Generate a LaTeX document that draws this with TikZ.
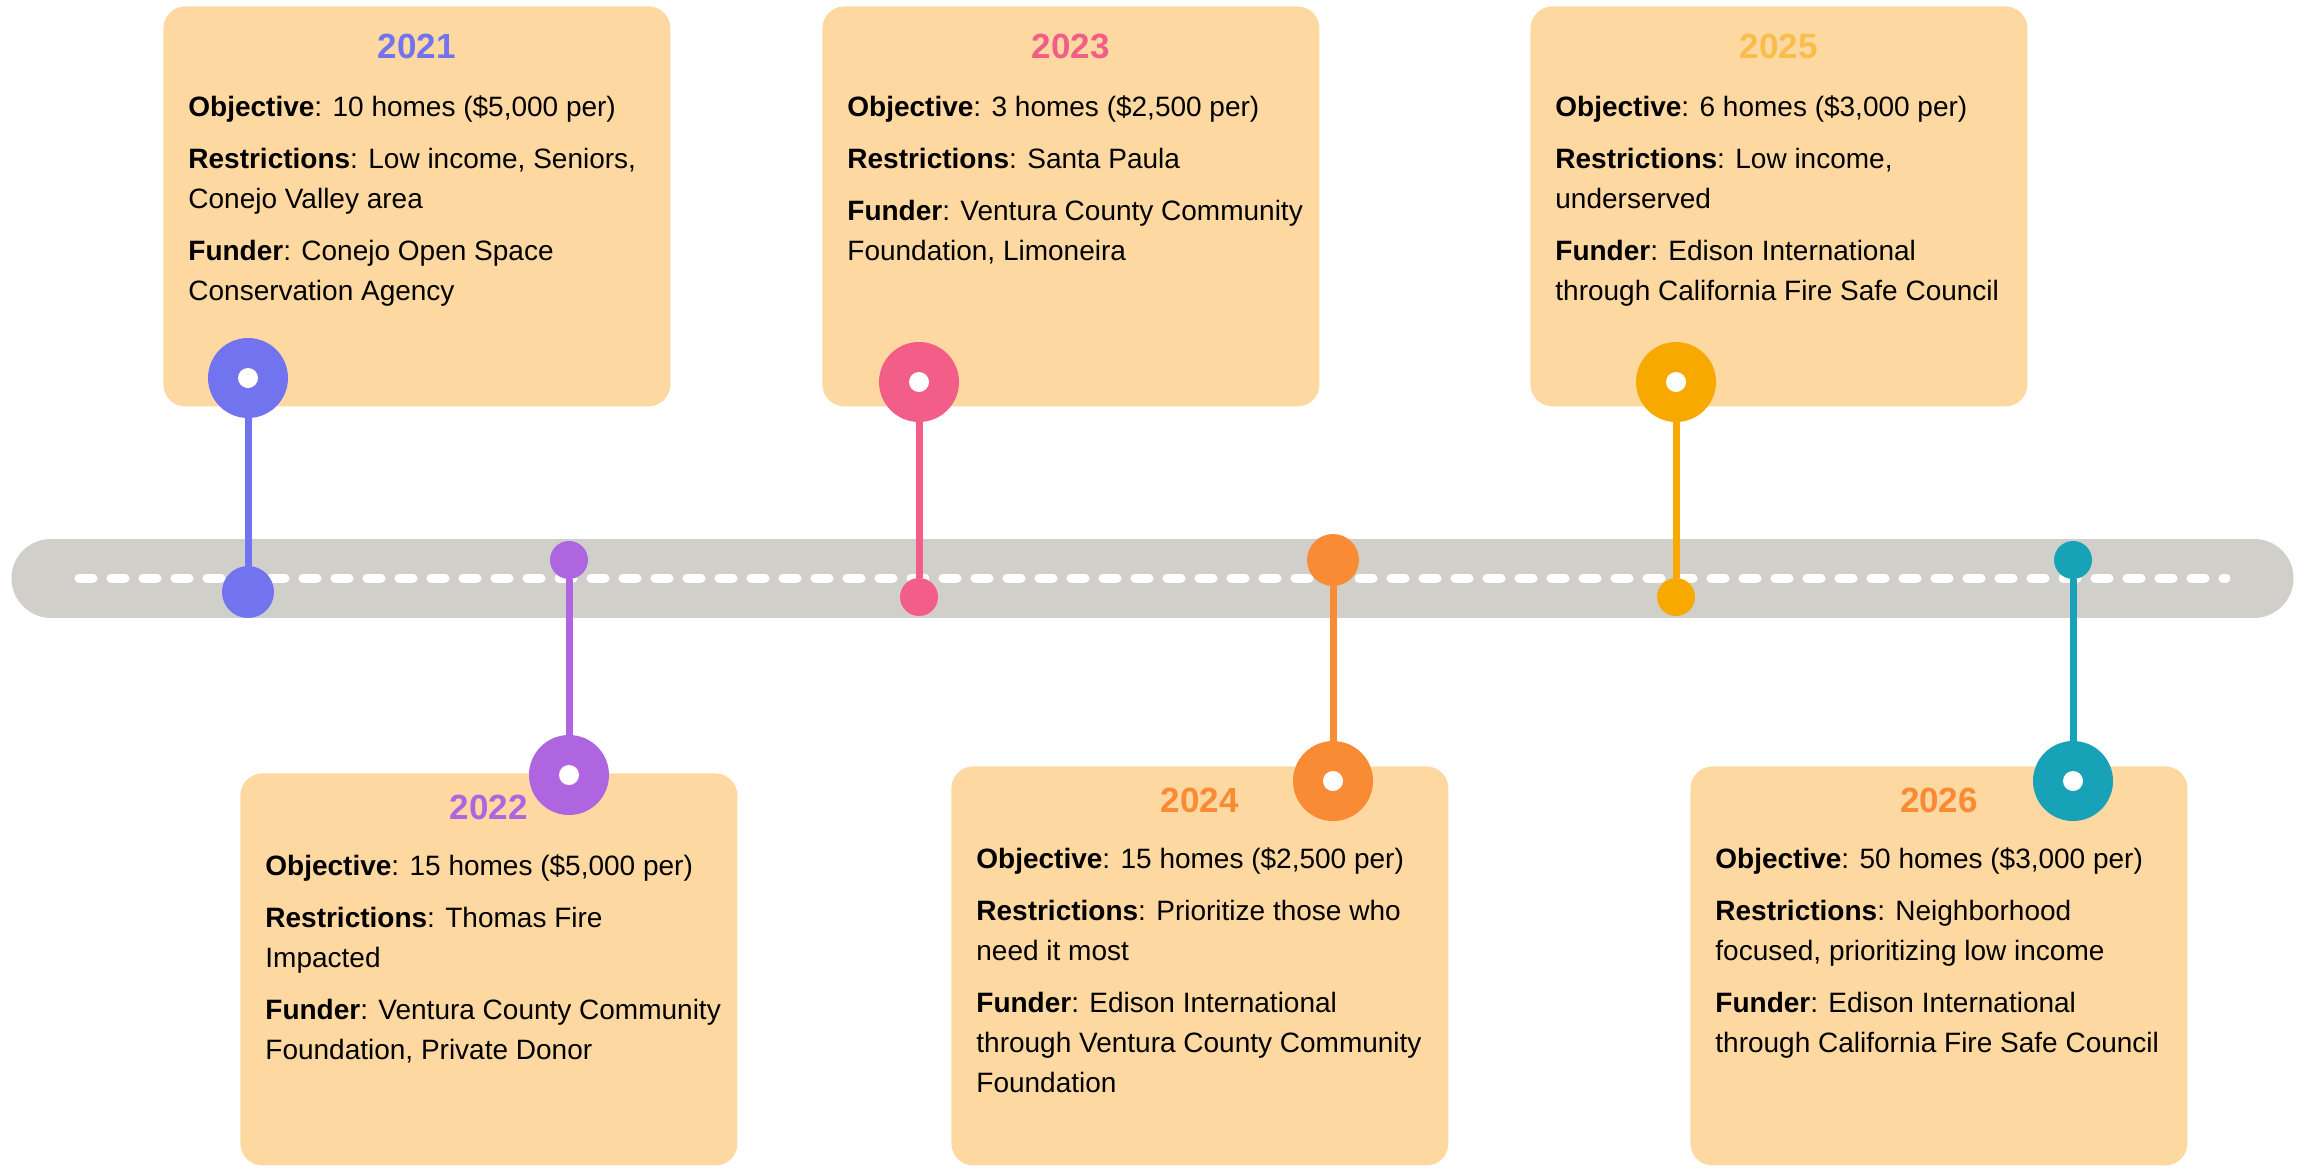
\documentclass[tikz,border=0pt]{standalone}
\usepackage{fontspec}
\setmainfont{Liberation Sans}
\usepackage{tikz}
\usetikzlibrary{positioning}
\definecolor{c21}{HTML}{7273EE}
\definecolor{c22}{HTML}{B065E0}
\definecolor{c23}{HTML}{F25E87}
\definecolor{c24}{HTML}{F98B35}
\definecolor{c25}{HTML}{F8A900}
\definecolor{y25}{HTML}{F9BE4A}
\definecolor{c26}{HTML}{17A2B8}
\definecolor{cardfill}{HTML}{FDD8A0}
\definecolor{road}{HTML}{D1CFCA}
\newcommand{\obj}{\textbf{Objective}: }
\newcommand{\res}{\textbf{Restrictions}: }
\newcommand{\fun}{\textbf{Funder}: }
\newcommand{\gap}{\\[6pt]}

\begin{document}
\begin{tikzpicture}[x=0.5pt,y=-0.5pt,
	card/.style={fill=cardfill,rounded corners=11pt,minimum width=248.5pt,%
		minimum height=200pt,anchor=north west,inner sep=0pt},
	year/.style={font=\fontsize{17.5}{21}\selectfont\bfseries,text=#1,inner sep=0pt},
	info/.style={font=\fontsize{14}{20}\selectfont,align=left,inner sep=0pt},
	pin/.style={circle,fill=#1,minimum size=40pt,inner sep=0pt},
	hole/.style={circle,fill=white,minimum size=10pt,inner sep=0pt},
	dot/.style={circle,fill=#1,minimum size=19pt,inner sep=0pt},
	stem/.style={draw=#1,line width=3.5pt}
	]
	\useasboundingbox (0,0) rectangle (2305,1167);

	% road
	\draw[road,line width=39.5pt,line cap=round] (51,578) -- (2254,578);
	\draw[white,line width=4.5pt,line cap=round,dash pattern=on 7pt off 9pt] (79,578) -- (2226,578);

	% cards above
	\node[card,minimum width=253.5pt] (k21) at (163,6) {};
	\node[card] (k23) at (822,6) {};
	\node[card] (k25) at (1530,6) {};
	% cards below
	\node[card,minimum height=196pt] (k22) at (240,773) {};
	\node[card,minimum height=199.5pt] (k24) at (951,766) {};
	\node[card,minimum height=199.5pt] (k26) at (1690,766) {};

	\node[year=c21,below=14pt of k21.north] (y21) {2021};
	\node[year=c23,below=14pt of k23.north] (y23) {2023};
	\node[year=y25,below=14pt of k25.north] (y25) {2025};
	\node[year=c22,below=11pt of k22.north] (y22) {2022};
	\node[year=c24,below=11pt of k24.north] (y24) {2024};
	\node[year=c24,below=11pt of k26.north] (y26) {2026};

	\node[info,below right=44.5pt and 12.5pt of k21.north west] (t21)
		{\obj 10 homes (\$5,000 per)\gap
		 \res Low income, Seniors,\\ Conejo Valley area\gap
		 \fun Conejo Open Space\\ Conservation Agency};
	\node[info,below right=44.5pt and 12.5pt of k23.north west] (t23)
		{\obj 3 homes (\$2,500 per)\gap
		 \res Santa Paula\gap
		 \fun Ventura County Community\\ Foundation, Limoneira};
	\node[info,below right=44.5pt and 12.5pt of k25.north west] (t25)
		{\obj 6 homes (\$3,000 per)\gap
		 \res Low income,\\ underserved\gap
		 \fun Edison International\\ through California Fire Safe Council};
	\node[info,below right=40.5pt and 12.5pt of k22.north west] (t22)
		{\obj 15 homes (\$5,000 per)\gap
		 \res Thomas Fire\\ Impacted\gap
		 \fun Ventura County Community\\ Foundation, Private Donor};
	\node[info,below right=40.5pt and 12.5pt of k24.north west] (t24)
		{\obj 15 homes (\$2,500 per)\gap
		 \res Prioritize those who\\ need it most\gap
		 \fun Edison International\\ through Ventura County Community\\ Foundation};
	\node[info,below right=40.5pt and 12.5pt of k26.north west] (t26)
		{\obj 50 homes (\$3,000 per)\gap
		 \res Neighborhood\\ focused, prioritizing low income\gap
		 \fun Edison International\\ through California Fire Safe Council};

	% pins and dots on the road
	\node[pin=c21] (p21) at (248,378) {};
	\node[dot=c21,minimum size=26pt] (d21) at (248,592) {};
	\node[pin=c22] (p22) at (569,775) {};
	\node[dot=c22] (d22) at (569,560) {};
	\node[pin=c23] (p23) at (919,382) {};
	\node[dot=c23] (d23) at (919,597) {};
	\node[pin=c24] (p24) at (1333,781) {};
	\node[dot=c24,minimum size=26pt] (d24) at (1333,560) {};
	\node[pin=c25] (p25) at (1676,382) {};
	\node[dot=c25] (d25) at (1676,597) {};
	\node[pin=c26] (p26) at (2073,781) {};
	\node[dot=c26] (d26) at (2073,560) {};

	\draw[stem=c21] (p21) -- (d21);
	\draw[stem=c22] (d22) -- (p22);
	\draw[stem=c23] (p23) -- (d23);
	\draw[stem=c24] (d24) -- (p24);
	\draw[stem=c25] (p25) -- (d25);
	\draw[stem=c26] (d26) -- (p26);

	\node[hole] (h21) at (p21) {};
	\node[hole] (h22) at (p22) {};
	\node[hole] (h23) at (p23) {};
	\node[hole] (h24) at (p24) {};
	\node[hole] (h25) at (p25) {};
	\node[hole] (h26) at (p26) {};
\end{tikzpicture}
\end{document}
